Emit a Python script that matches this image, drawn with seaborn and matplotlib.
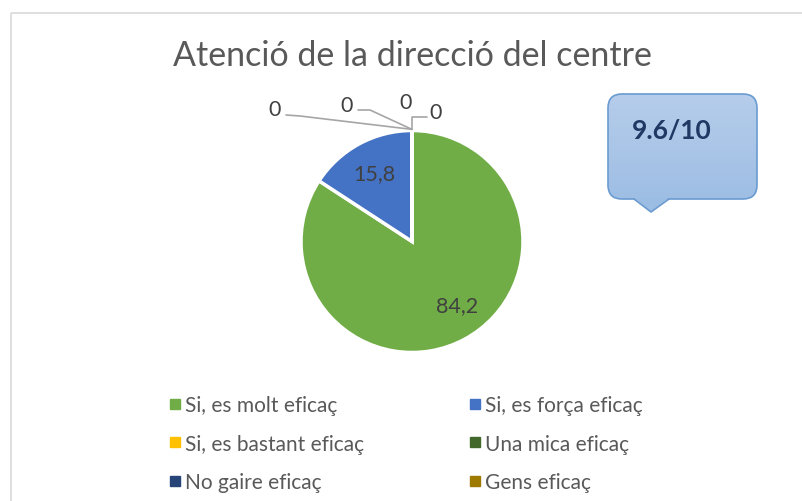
import numpy as np
import matplotlib
matplotlib.use("Agg")
import matplotlib.pyplot as plt
import seaborn as sns
from matplotlib.lines import Line2D
from matplotlib.patches import FancyBboxPatch, Polygon, Rectangle

# dades del gràfic
title = "Atenció de la direcció del centre"
categories = ["Si, es molt eficaç", "Si, es força eficaç", "Si, es bastant eficaç",
              "Una mica eficaç", "No gaire eficaç", "Gens eficaç"]
values = [84.2, 15.8, 0, 0, 0, 0]
colors = ["#70AD47", "#4472C4", "#FFC000", "#43682B", "#264478", "#9E7A00"]
score_text = "9.6/10"

sns.set_theme(style="white")
plt.rcParams["font.family"] = ["Lato", "DejaVu Sans"]

W, H = 803, 502
fig = plt.figure(figsize=(W / 100, H / 100), dpi=100)

# capa de fons en píxels: marc i bafarada
ov = fig.add_axes([0, 0, 1, 1], zorder=0)
ov.set_xlim(0, W)
ov.set_ylim(H, 0)
ov.axis("off")
ov.add_patch(Rectangle((11, 14), 900, 600, fill=False, edgecolor="#D9D9D9", lw=1.2))

# bafarada amb degradat
bx0, by0, bx1, by1 = 608, 95, 757, 200
box = FancyBboxPatch((bx0, by0), bx1 - bx0, by1 - by0,
                     boxstyle="round,pad=0,rounding_size=14",
                     facecolor="none", edgecolor="#6A9BD1", lw=1.2, zorder=2)
ov.add_patch(box)
grad = np.linspace(0, 1, 256).reshape(-1, 1)
cmap = matplotlib.colors.LinearSegmentedColormap.from_list("g", ["#B6CDEB", "#9BBCE3"])
img = ov.imshow(grad, cmap=cmap, extent=(bx0, bx1, by1 + 14, by0), aspect="auto", zorder=1)
img.set_clip_path(box)
tip = [(634, by1 - 1), (651, 213), (669, by1 - 1)]
ov.add_patch(Polygon(tip, closed=True, facecolor="#9BBCE3", edgecolor="none", zorder=3))
ov.plot([634, 651, 669], [by1, 213, by1], color="#6A9BD1", lw=1.2, zorder=4)
ov.text(672, 131, score_text, ha="center", va="center", fontsize=19, fontweight="bold",
        color="#1F3864", zorder=5)

# títol
fig.text(412 / W, 1 - 56 / H, title, ha="center", va="center", fontsize=24.5, color="#595959")

# pastís
cx, cy, R, S = 412, 242.5, 111, 320
ax = fig.add_axes([(cx - S / 2) / W, (H - cy - S / 2) / H, S / W, S / H], zorder=1)
ax.patch.set_alpha(0)
wedges, _ = ax.pie(values, colors=colors, startangle=90, counterclock=False,
                   wedgeprops=dict(edgecolor="white", linewidth=2.5))
lim = S / 2 / R
ax.set_xlim(-lim, lim)
ax.set_ylim(-lim, lim)

def px(x, y):
    return (x - cx) / R, (cy - y) / R

# etiquetes dels valors (posició en fracció del radi i desplaçament angular)
label_dist = [0.70, 0.705]
label_nudge = [7, 0]
zero_text = [(275, 110), (347, 106), (406, 103), (436, 113)]
zero_elbow = [[(286, 116), (300, 117)], [(358, 111), (370, 111)], [], [(427, 118), (412, 118)]]
zi = 0
for i, (w, v) in enumerate(zip(wedges, values)):
    fmt = f"{v:.1f}".replace(".", ",") if v else "0"
    if v > 0:
        ang = np.deg2rad((w.theta1 + w.theta2) / 2 + label_nudge[i])
        d = label_dist[i]
        ax.text(d * np.cos(ang), d * np.sin(ang), fmt, ha="center", va="center",
                fontsize=15.5, color="#404040")
    else:
        ang = np.deg2rad(w.theta1)
        anchor = (np.cos(ang), np.sin(ang) + 0.01)
        tx, ty = px(*zero_text[zi])
        ax.text(tx, ty, fmt, ha="center", va="center", fontsize=15.5, color="#404040")
        pts = [px(*p) for p in zero_elbow[zi]] + [anchor]
        if len(pts) > 1:
            ax.plot([p[0] for p in pts], [p[1] for p in pts], color="#A6A6A6", lw=1.2,
                    clip_on=False)
        zi += 1

# llegenda
handles = [Line2D([], [], marker="s", ls="none", color=c, markersize=7) for c in colors]
order = [0, 2, 4, 1, 3, 5]
fig.legend([handles[i] for i in order], [categories[i] for i in order], ncol=2,
           loc="upper left", bbox_to_anchor=(171 / W, 1 - 396 / H), frameon=False,
           fontsize=15, labelcolor="#595959", handlelength=0.4, handletextpad=0.25,
           columnspacing=5.16, labelspacing=0.9, borderpad=0, borderaxespad=0)

fig.savefig("out.png", dpi=100)
